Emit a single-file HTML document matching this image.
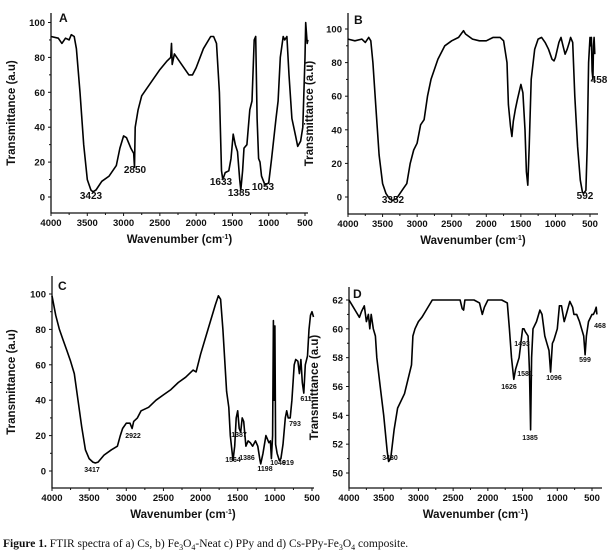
<!DOCTYPE html>
<html><head><meta charset="utf-8"><style>
html,body{margin:0;padding:0;background:#fff;}
svg{display:block;}
text{font-family:"Liberation Sans",Arial,sans-serif;fill:#111;}
.cap{font-family:"Liberation Serif",serif;font-size:11.5px;}
</style></head><body>
<svg id="fig" width="612" height="553" viewBox="0 0 612 553"></svg>
<script>
const waveA=[4000,3900,3850,3800,3750,3720,3680,3650,3600,3550,3500,3450,3423,3380,3300,3200,3100,3050,3000,2960,2900,2860,2850,2840,2800,2750,2600,2500,2400,2350,2340,2330,2300,2200,2100,2050,2000,1900,1800,1760,1720,1680,1650,1633,1600,1550,1520,1490,1460,1430,1400,1385,1360,1340,1300,1260,1230,1200,1180,1160,1140,1120,1100,1053,1000,960,900,870,840,800,780,750,720,680,630,600,560,530,500,490,470,460];
const transA=[92,91,88,91,90,93,92,85,60,30,10,4,3,4,9,12,18,28,35,34,28,25,17,40,50,58,67,73,78,80,88,76,82,76,70,70,74,85,92,92,88,60,15,10,14,15,22,36,30,26,10,4,15,28,30,50,55,90,92,45,22,20,12,7,8,22,45,55,80,92,90,92,70,45,35,29,32,40,80,100,88,90];
const waveB=[4000,3900,3800,3750,3700,3670,3640,3600,3550,3500,3450,3400,3352,3300,3250,3200,3150,3100,3050,3000,2950,2900,2850,2800,2700,2600,2500,2400,2330,2300,2200,2100,2000,1900,1800,1750,1700,1680,1650,1630,1610,1580,1550,1500,1470,1440,1420,1400,1380,1350,1300,1250,1200,1150,1100,1050,1020,1000,950,920,890,860,830,800,780,750,720,680,640,610,592,560,540,520,500,490,480,470,458,450,440,430];
const transB=[94,93,94,92,95,93,80,55,25,8,2,-1,-2,-1,2,5,8,20,28,32,43,46,60,70,82,90,93,95,99,97,94,93,93,95,95,93,80,55,42,36,45,52,58,67,62,40,15,7,30,70,88,94,95,92,88,82,81,83,92,95,90,85,88,92,95,92,60,30,10,3,2,4,30,80,95,90,95,75,70,90,95,85];
const waveC=[4000,3950,3900,3850,3800,3750,3700,3650,3600,3550,3500,3450,3417,3380,3300,3200,3120,3080,3050,3000,2950,2922,2900,2850,2800,2700,2600,2500,2400,2300,2200,2100,2060,2000,1900,1800,1760,1730,1700,1650,1620,1600,1564,1540,1520,1500,1480,1460,1440,1420,1390,1360,1330,1300,1260,1230,1200,1190,1160,1120,1100,1080,1060,1046,1030,1020,1010,1000,990,970,940,919,890,860,840,820,793,770,740,720,690,670,650,630,611,590,560,540,520,500,480];
const transC=[99,88,80,74,68,62,55,40,25,12,7,5,4.5,5,9,12,14,20,24,27,27,24,28,30,34,36,40,43,46,50,53,57,56,66,80,94,99,97,80,45,36,20,6,14,30,34,24,22,30,28,14,17,16,14,17,14,6,4,10,20,18,16,17,7,20,85,40,82,15,10,6,7,15,30,34,30,30,40,60,63,62,55,63,50,44,60,65,80,88,90,87];
const waveD=[4000,3950,3900,3850,3820,3780,3750,3720,3700,3680,3650,3620,3600,3550,3500,3450,3430,3400,3350,3300,3200,3150,3100,3080,3050,3000,2950,2900,2800,2400,2370,2350,2330,2200,2120,2080,2050,2000,1800,1720,1690,1660,1626,1600,1581,1550,1500,1480,1460,1420,1400,1385,1370,1350,1300,1250,1220,1180,1150,1120,1096,1070,1050,1000,970,940,900,870,820,780,760,720,680,650,620,599,580,550,500,480,460,440,430];
const transD=[62,61.6,61.2,60.8,61.2,61.6,60.5,61,60,61,60,59.5,58,56,54,51.5,50.8,51,53,54.5,55.5,56.5,57.5,59.5,60,60.5,60.8,61.2,62,62,61.4,61.3,62,62,61.8,61,61.5,62,62,61.8,60,58,56.5,57.2,57.5,58,60,60,59.8,59.5,57,53,58,60,60.5,61.3,61,59.5,59,58.5,57,59,59.2,60,61.6,61.6,60.5,61,61.9,61.5,61,61,60.5,60,59.5,58.2,59.5,60.5,61,61,61.2,61.5,61];
const xTicks=[4000,3500,3000,2500,2000,1500,1000,500];
const yTicksABC=[0,20,40,60,80,100];
const yTicksD=[50,52,54,56,58,60,62];
const peaksA=[[3423,'3423',91,199],[2850,'2850',135,173],[1633,'1633',221,185],[1385,'1385',239,196],[1053,'1053',263,190]];
const peaksB=[[3352,'3352',393,203],[592,'592',585,199],[458,'458',599,83]];
const peaksC=[[3417,'3417',92,472],[2922,'2922',133,438],[1564,'1564',233,462],[1387,'1387',239,437],[1386,'1386',247,460],[1198,'1198',265,471],[1046,'1046',278,465],[919,'919',288,465],[793,'793',295,426],[611,'611',306,401]];
const peaksD=[[3430,'3430',390,460],[1626,'1626',509,389],[1493,'1493',522,346],[1581,'1581',525,376],[1385,'1385',530,440],[1096,'1096',554,380],[599,'599',585,362],[468,'468',600,328]];

const NS='http://www.w3.org/2000/svg';
const svg=document.getElementById('fig');
function el(tag,attrs,parent,txt){const e=document.createElementNS(NS,tag);for(const k in attrs)e.setAttribute(k,attrs[k]);if(txt!==undefined)e.textContent=txt;(parent||svg).appendChild(e);return e;}

function panel(cfg){
  const g=el('g',{});
  
  
  const xs=w=>cfg.x0+(4000-w)/3500*(cfg.x500-cfg.x0);
  const ys=v=>cfg.yb+(v-cfg.vmin)/(cfg.vmax-cfg.vmin)*(cfg.yt-cfg.yb);
  const ax=el('path',{d:`M${cfg.x0} ${cfg.top}V${cfg.bottom}H${cfg.right}`,fill:'none',stroke:'#111','stroke-width':1.3},g);
  
  
  xTicks.forEach((t,i)=>{
    const x=xs(t);
    el('line',{x1:x,x2:x,y1:cfg.bottom,y2:cfg.bottom+3,stroke:'#111','stroke-width':1},g);
    if(i<xTicks.length-1){const xm=xs(t-250);el('line',{x1:xm,x2:xm,y1:cfg.bottom,y2:cfg.bottom+2,stroke:'#111','stroke-width':1},g);}
    const lb=el('text',{x:x,y:cfg.bottom+13,'text-anchor':'middle','font-size':9.5,'font-weight':'bold'},g,String(t));
    
    
  });
  cfg.yTicks.forEach((t,i)=>{
    const y=ys(t);
    el('line',{x1:cfg.x0-3,x2:cfg.x0,y1:y,y2:y,stroke:'#111','stroke-width':1},g);
    if(i<cfg.yTicks.length-1){const ym=ys((t+cfg.yTicks[i+1])/2);el('line',{x1:cfg.x0-2,x2:cfg.x0,y1:ym,y2:ym,stroke:'#111','stroke-width':1},g);}
    const lb=el('text',{x:cfg.x0-6,y:y+3.5,'text-anchor':'end','font-size':9.5,'font-weight':'bold'},g,String(t));
    
    
  });
  const d=cfg.w.map((w,i)=>(i?'L':'M')+xs(w).toFixed(1)+' '+ys(cfg.v[i]).toFixed(1)).join('');
  const ln=el('path',{d:d,fill:'none',stroke:'#000','stroke-width':1.6,'stroke-linejoin':'round'},g);
  
  
  cfg.peaks.forEach(p=>{
    const t=el('text',{x:p[2],y:p[3],'text-anchor':'middle','font-size':cfg.pfs,'font-weight':cfg.pfw},g,p[1]);
    
    
  });
  const xt=el('text',{x:(cfg.x0+cfg.right)/2,y:cfg.bottom+30,'text-anchor':'middle','font-size':11.5,'font-weight':'bold'},g);
  
  
  xt.appendChild(document.createTextNode('Wavenumber (cm'));
  el('tspan',{'font-size':7,dy:-4},xt,'-1');
  el('tspan',{dy:4},xt,')');
  const yc=(cfg.top+cfg.bottom)/2;
  const yt=el('text',{x:cfg.ytx,y:yc,'text-anchor':'middle','font-size':11.5,'font-weight':'bold',transform:`rotate(-90 ${cfg.ytx} ${yc})`},g,'Transmittance (a.u)');
  
  
  const pl=el('text',{x:cfg.lx,y:cfg.ly,'font-size':12,'font-weight':'bold','font-family':'Liberation Serif,serif'},g,cfg.id);
  
  
}

panel({id:'A',w:waveA,v:transA,yTicks:yTicksABC,vmin:0,vmax:100,x0:51,x500:305,right:308,yb:197,yt:22.5,top:13,bottom:213,ytx:15,lx:59,ly:22,peaks:peaksA,pfs:10,pfw:'bold'});
panel({id:'B',w:waveB,v:transB,yTicks:yTicksABC,vmin:0,vmax:100,x0:348,x500:590,right:598,yb:197,yt:29,top:13,bottom:214,ytx:313,lx:354,ly:24,peaks:peaksB,pfs:10,pfw:'bold'});
panel({id:'C',w:waveC,v:transC,yTicks:yTicksABC,vmin:0,vmax:100,x0:52,x500:312,right:314,yb:471,yt:294,top:276,bottom:488,ytx:15,lx:58,ly:290,peaks:peaksC,pfs:7,pfw:'bold'});
panel({id:'D',w:waveD,v:transD,yTicks:yTicksD,vmin:50,vmax:62,x0:349,x500:592,right:602,yb:473,yt:300,top:287,bottom:488,ytx:318,lx:353,ly:298,peaks:peaksD,pfs:7,pfw:'bold'});

const cap=el('text',{x:3,y:547,class:'cap'});


el('tspan',{'font-weight':'bold'},cap,'Figure 1.');
el('tspan',{},cap,' FTIR spectra of a) Cs, b) Fe');
el('tspan',{'font-size':8,dy:3},cap,'3');
el('tspan',{dy:-3},cap,'O');
el('tspan',{'font-size':8,dy:3},cap,'4');
el('tspan',{dy:-3},cap,'-Neat c) PPy and d) Cs-PPy-Fe');
el('tspan',{'font-size':8,dy:3},cap,'3');
el('tspan',{dy:-3},cap,'O');
el('tspan',{'font-size':8,dy:3},cap,'4');
el('tspan',{dy:-3},cap,' composite.');
</script>
</body></html>
